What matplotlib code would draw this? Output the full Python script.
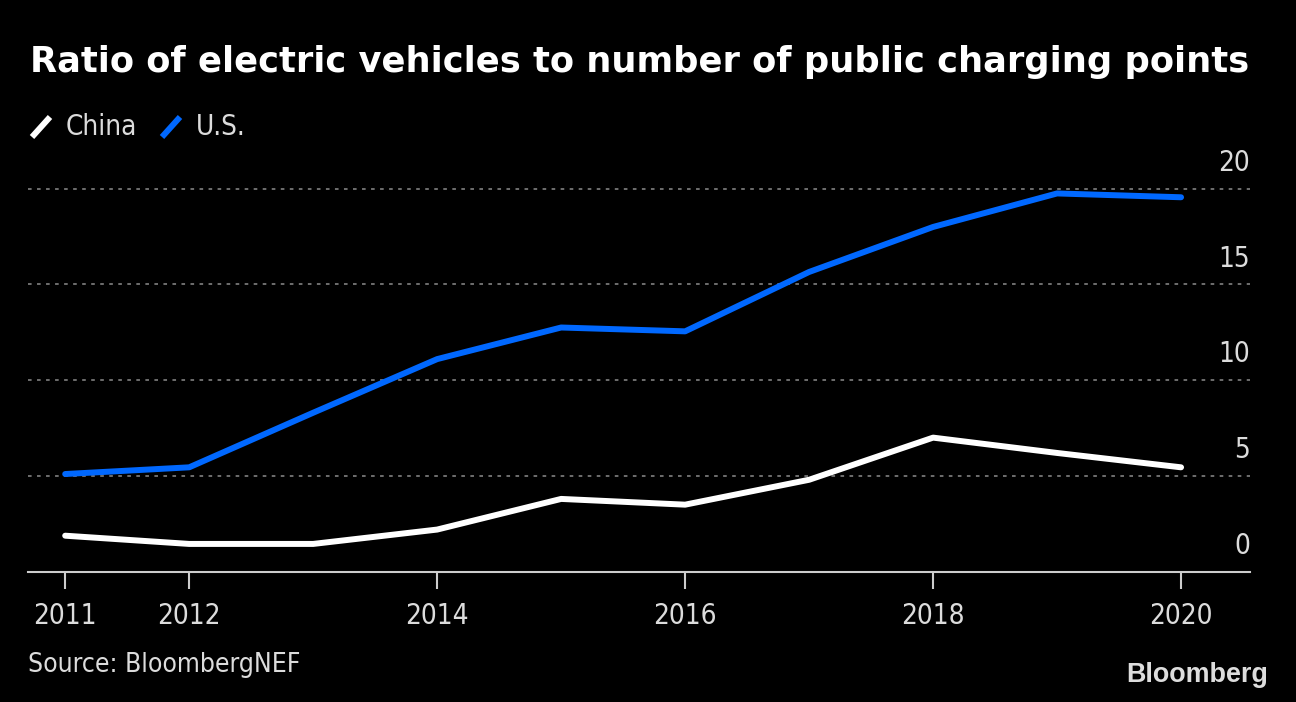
import matplotlib
matplotlib.use("Agg")
import matplotlib.pyplot as plt
from matplotlib.lines import Line2D
from matplotlib import font_manager as fm

years = [2011, 2012, 2013, 2014, 2015, 2016, 2017, 2018, 2019, 2020]
china = [1.88, 1.45, 1.45, 2.2, 3.8, 3.5, 4.8, 7.0, 6.2, 5.45]
us = [5.1, 5.45, 8.3, 11.1, 12.75, 12.55, 15.65, 18.0, 19.75, 19.55]
xticks = [2011, 2012, 2014, 2016, 2018, 2020]
yticks = [0, 5, 10, 15, 20]

BG = "#000000"
TXT = "#dcdcdc"
BLUE = "#0068ff"

fp = fm.FontProperties(family="DejaVu Sans", stretch="condensed", size=20)

fig = plt.figure(figsize=(12.96, 7.02), dpi=100, facecolor=BG)
ax = fig.add_axes([28/1296, 1-571.7/702, (1250-28)/1296, (571.7-169.5)/702])
ax.set_facecolor(BG)

ax.plot(years, china, color="white", lw=4.3, solid_capstyle="round", solid_joinstyle="round", zorder=3)
ax.plot(years, us, color=BLUE, lw=4.3, solid_capstyle="round", solid_joinstyle="round", zorder=3)

ax.set_xlim(2010.70, 2020.556)
ax.set_ylim(0, 21)

for y in yticks[1:]:
    ax.axhline(y, color="#777777", lw=1.3, ls=(0, (2, 3)), zorder=1)
for y in yticks:
    ax.text(1.0, y + 1.35, str(y), transform=ax.get_yaxis_transform(), ha="right", va="center",
            color=TXT, fontproperties=fp)

ax.set_yticks([])
ax.set_xticks(xticks)
ax.set_xticklabels([str(x) for x in xticks], color=TXT, fontproperties=fp)
ax.tick_params(axis="x", colors="#cccccc", length=12, width=1.5, pad=10, labelcolor=TXT)
for s in ["top", "left", "right"]:
    ax.spines[s].set_visible(False)
ax.spines["bottom"].set_color("#cccccc")
ax.spines["bottom"].set_linewidth(1.5)

fig.text(30/1296, 1-62/702, "Ratio of electric vehicles to number of public charging points",
         fontsize=25.4, fontweight="bold", color="white", ha="left", va="center", family="DejaVu Sans")

# legend
for x0, col, lab in [(30, "white", "China"), (160, BLUE, "U.S.")]:
    fig.add_artist(Line2D([(x0+2)/1296, (x0+20)/1296], [1-137/702, 1-117/702], color=col, lw=4.3,
                          solid_capstyle="butt", transform=fig.transFigure))
    fig.text((x0+36)/1296, 1-127/702, lab, color=TXT, ha="left", va="center", fontproperties=fp)

fig.text(28/1296, 1-665/702, "Source: BloombergNEF", color=TXT, ha="left", va="center",
         fontproperties=fm.FontProperties(family="DejaVu Sans", stretch="condensed", size=19))
fig.text(1268/1296, 1-675/702, "Bloomberg", fontsize=19.4, fontweight="bold", color="#dddddd",
         ha="right", va="center", family="Liberation Sans")

fig.savefig("out.png", dpi=100, facecolor=BG)
